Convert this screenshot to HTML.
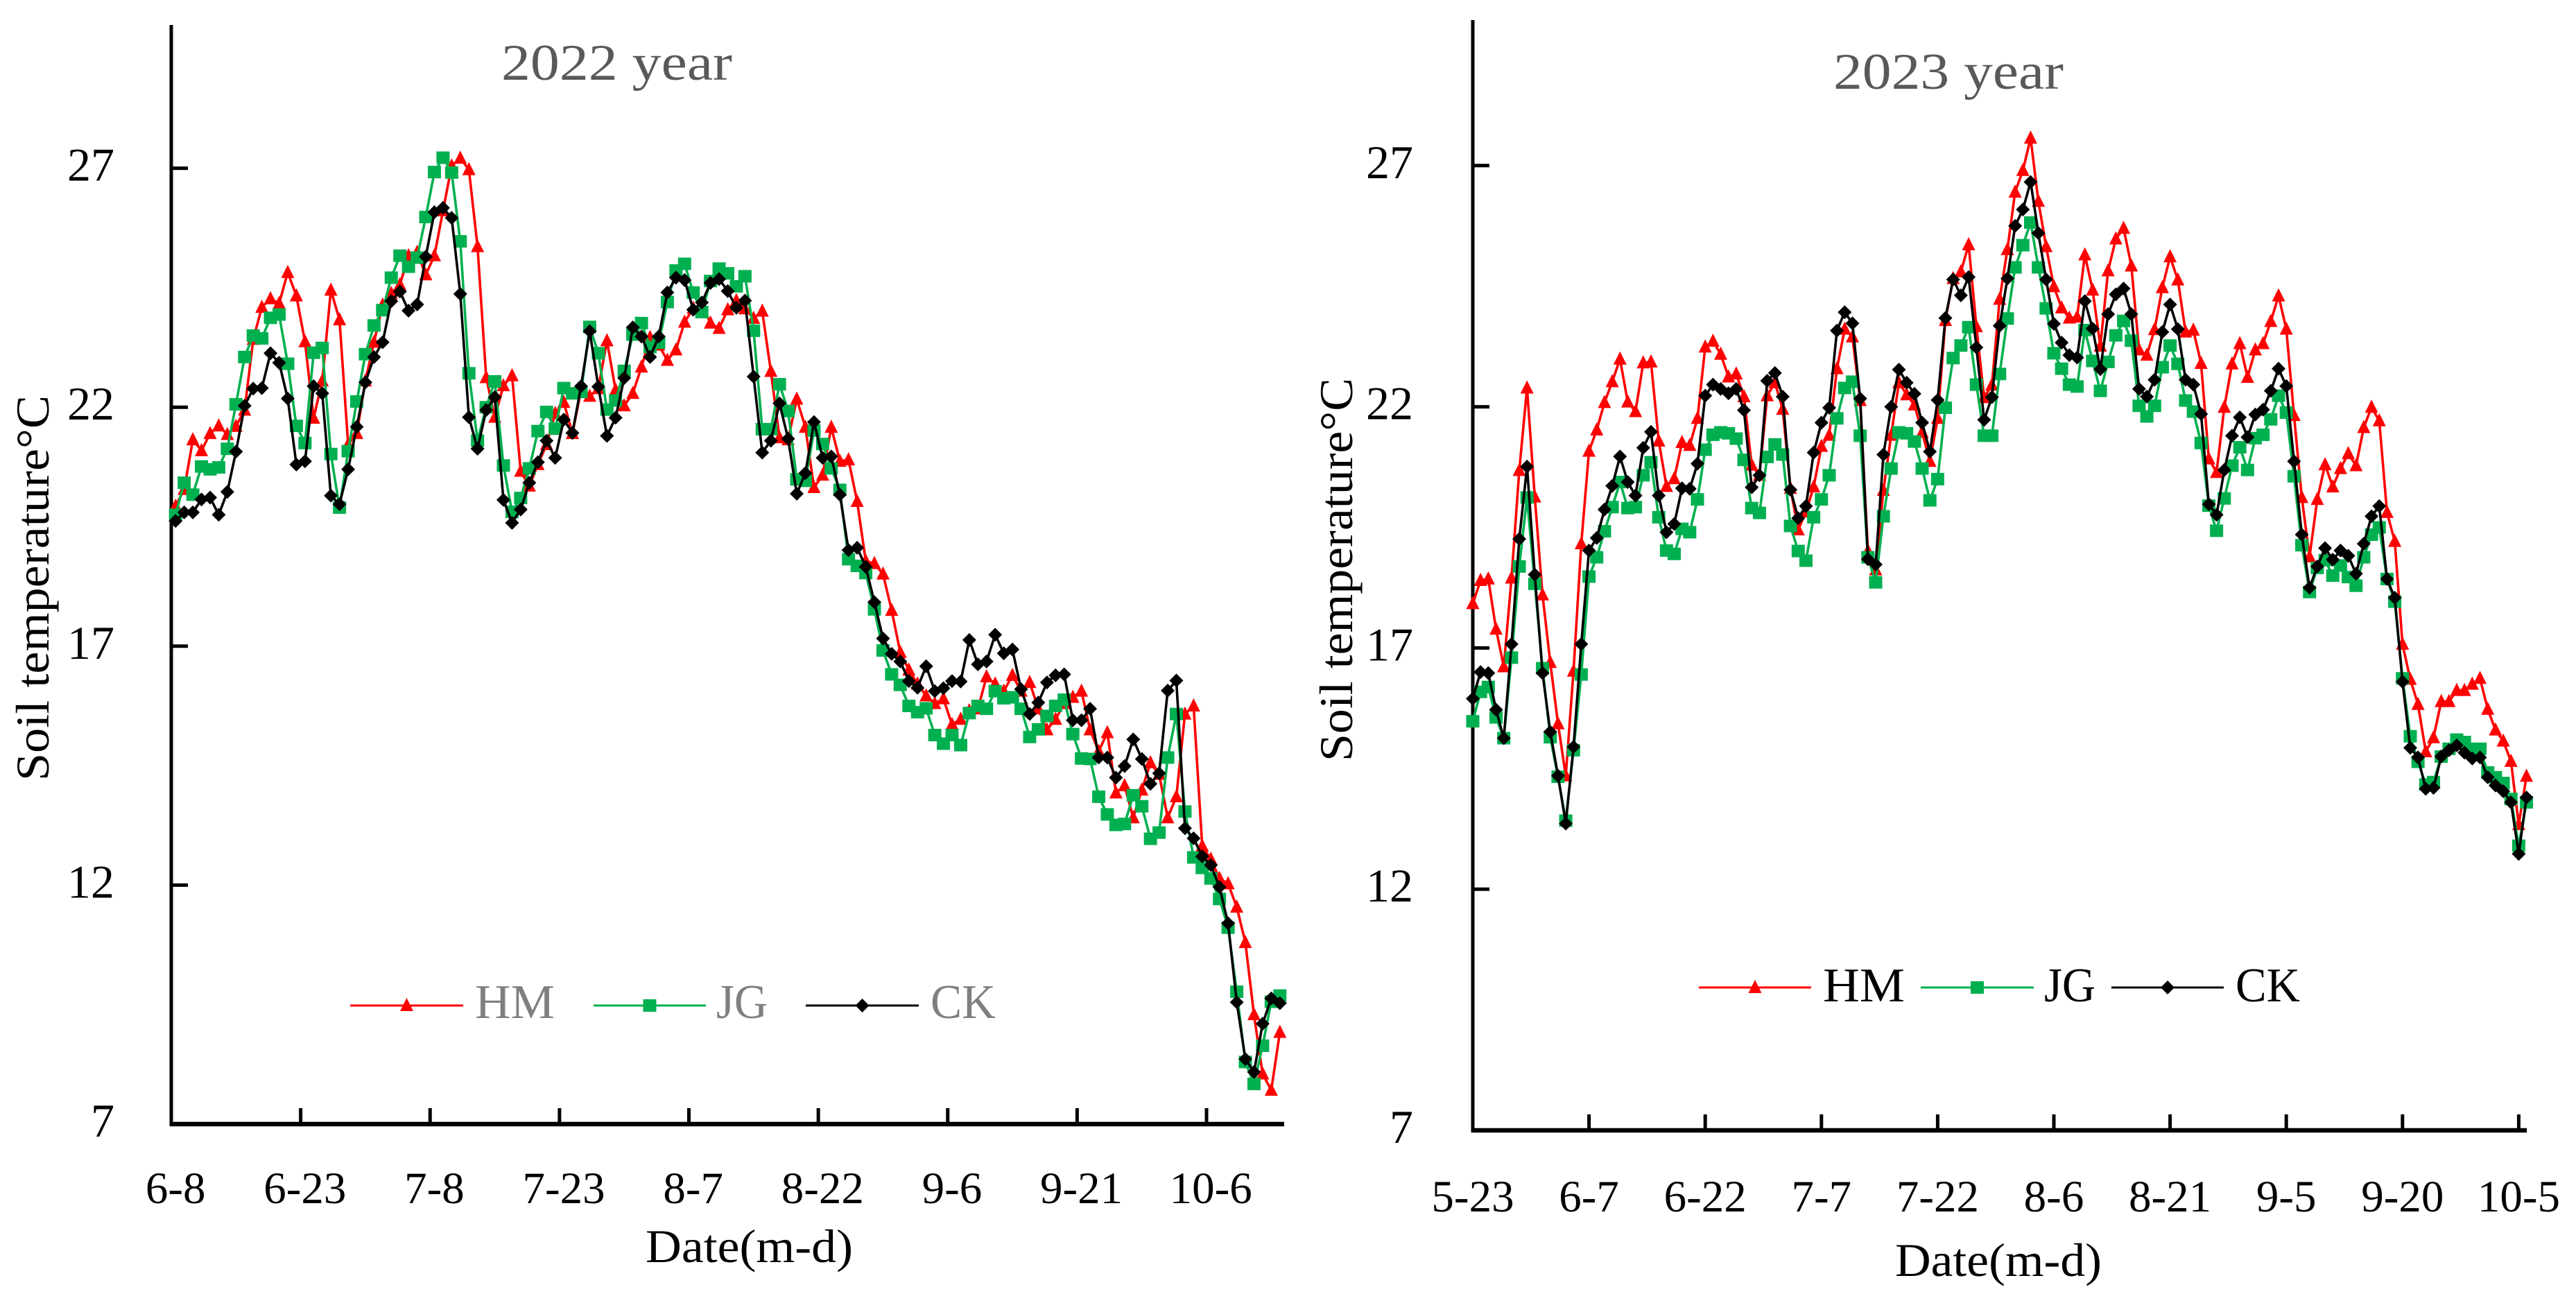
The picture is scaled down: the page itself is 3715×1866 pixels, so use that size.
<!DOCTYPE html>
<html lang="en">
<head>
<meta charset="utf-8">
<title>Soil temperature 2022 and 2023</title>
<style>
html,body{margin:0;padding:0;background:#fff;}
svg{display:block;}
text{font-family:"Liberation Serif","DejaVu Serif",serif;}
</style>
</head>
<body>
<svg id="figure" xmlns="http://www.w3.org/2000/svg" width="3715" height="1866" viewBox="0 0 3715 1866">
  <rect x="0" y="0" width="3715" height="1866" fill="#ffffff"/>
  <g id="chart-2022">
    <text x="723" y="115" font-size="74" fill="#595959" textLength="333" lengthAdjust="spacingAndGlyphs">2022 year</text>
    <text transform="translate(70,1126) rotate(-90)" font-size="68" fill="#000" textLength="556" lengthAdjust="spacingAndGlyphs">Soil temperature°C</text>
    <text x="931" y="1820" font-size="68" fill="#000" textLength="299" lengthAdjust="spacingAndGlyphs">Date(m-d)</text>
  </g>
  <g id="chart-2023">
    <text x="2644" y="128" font-size="74" fill="#595959" textLength="332" lengthAdjust="spacingAndGlyphs">2023 year</text>
    <text transform="translate(1950,1098) rotate(-90)" font-size="68" fill="#000" textLength="553" lengthAdjust="spacingAndGlyphs">Soil temperature°C</text>
    <text x="2733" y="1840" font-size="68" fill="#000" textLength="298" lengthAdjust="spacingAndGlyphs">Date(m-d)</text>
  </g>
</svg>
<script>
const yTickValues = [7, 12, 17, 22, 27];
const tickLabels2022 = ["6-8","6-23","7-8","7-23","8-7","8-22","9-6","9-21","10-6"];
const tickLabels2023 = ["5-23","6-7","6-22","7-7","7-22","8-6","8-21","9-5","9-20","10-5"];
const legendNames = ["HM","JG","CK"];

const hm2022 = [19.93,20.28,21.32,21.09,21.45,21.61,21.43,21.60,21.94,23.42,
24.09,24.27,24.17,24.82,24.33,23.37,21.77,22.55,24.45,23.83,
21.22,21.45,22.55,23.36,24.14,24.38,24.56,25.17,25.24,24.77,
25.17,26.11,27.05,27.21,26.97,25.36,22.62,21.79,22.45,22.66,
20.66,20.35,20.80,21.22,21.87,22.10,21.45,22.36,22.23,22.39,
23.39,22.36,22.03,22.29,22.84,23.46,23.30,22.98,23.20,23.78,
24.07,24.14,23.76,23.65,24.04,24.23,24.06,23.86,24.01,22.75,21.36,21.32,22.17,21.58,20.32,20.58,21.58,20.87,20.90,20.03,18.78,18.73,18.51,17.75,
16.87,16.50,16.21,15.96,15.80,15.90,15.36,15.47,15.65,15.69,16.36,16.21,16.06,16.39,16.06,16.24,15.69,15.25,15.47,15.80,15.93,16.06,15.25,14.80,15.19,13.93,14.08,13.41,13.99,14.56,14.32,13.41,13.85,15.58,15.75,12.82,12.54,12.14,12.03,11.54,10.80,9.29,8.05,7.71,8.92];

const jg2022 = [19.75,20.42,20.17,20.76,20.70,20.74,21.13,22.06,23.05,23.50,
23.44,23.87,23.94,22.91,21.61,21.25,23.14,23.24,21.02,19.90,
21.08,22.12,23.11,23.71,24.03,24.71,25.17,24.94,25.13,25.98,
26.92,27.22,26.91,25.47,22.71,21.30,22.00,22.54,20.78,19.81,
20.10,20.72,21.50,21.90,21.55,22.40,22.29,22.32,23.68,23.13,
21.95,22.14,22.76,23.52,23.76,23.26,23.35,24.20,24.86,25.00,
24.40,23.99,24.64,24.90,24.80,24.53,24.74,23.60,21.54,21.54,22.48,21.92,20.49,20.46,21.51,21.23,20.72,20.27,18.82,18.68,18.53,17.77,
16.91,16.41,16.19,15.75,15.62,15.70,15.14,14.96,15.14,14.93,15.60,15.75,15.69,16.06,15.91,15.93,15.69,15.10,15.26,15.54,15.75,15.88,15.16,14.65,14.64,13.85,13.48,13.26,13.28,13.88,13.65,12.97,13.10,14.67,15.58,13.54,12.58,12.36,12.14,11.71,11.11,9.77,8.30,7.84,8.64,9.56,9.69];

const ck2022 = [19.62,19.80,19.80,20.07,20.11,19.75,20.23,21.07,22.03,22.39,
22.40,23.13,22.93,22.18,20.80,20.87,22.44,22.29,20.15,19.97,
20.70,21.59,22.52,23.05,23.36,24.22,24.42,24.02,24.15,25.15,
26.08,26.17,25.96,24.37,21.79,21.13,21.94,22.21,20.06,19.58,
19.86,20.42,20.85,21.30,20.94,21.74,21.46,22.44,23.59,22.43,
21.40,21.78,22.61,23.67,23.48,23.05,23.48,24.40,24.71,24.66,
24.04,24.19,24.60,24.68,24.43,24.08,24.23,22.64,21.05,21.30,22.08,21.34,20.19,20.62,21.69,20.94,20.97,20.17,19.01,19.06,18.66,17.92,
17.16,16.84,16.68,16.27,16.13,16.58,16.06,16.12,16.27,16.26,17.13,16.62,16.68,17.24,16.85,16.93,16.10,15.58,15.82,16.24,16.39,16.41,15.45,15.45,15.69,14.67,14.67,14.25,14.49,15.05,14.64,14.12,14.34,16.07,16.28,13.19,12.98,12.60,12.42,11.96,11.20,9.55,8.36,8.09,9.10,9.63,9.53];

const hm2023 = [17.92,18.40,18.43,17.39,16.61,18.45,20.68,22.39,20.13,18.10,
16.70,15.43,14.35,16.52,19.16,21.08,21.52,22.09,22.52,22.99,
22.10,21.90,22.91,22.93,21.29,20.35,20.51,21.26,21.20,21.76,
23.24,23.36,23.09,22.62,22.68,22.21,20.79,20.58,22.23,22.50,
21.95,20.31,19.45,19.82,20.34,21.18,21.41,22.79,23.61,23.45,
22.13,19.01,18.62,20.27,21.41,22.50,22.25,22.04,21.47,20.87,
21.76,23.79,24.66,24.80,25.36,
23.66,22.19,22.45,24.23,25.26,26.45,26.90,27.57,26.26,25.32,24.49,24.05,23.84,23.86,25.15,24.42,23.26,24.82,25.48,25.70,24.92,23.18,23.07,23.60,24.47,25.11,24.63,23.55,23.59,22.90,20.92,20.64,21.99,22.89,23.31,22.61,23.18,23.31,23.77,24.30,23.61,21.82,20.12,18.89,20.08,20.80,20.34,20.72,21.03,20.78,21.57,21.99,21.71,19.81,19.21,
17.08,16.35,15.83,14.85,15.14,15.89,15.89,16.12,16.12,16.25,16.37,15.73,15.30,15.07,14.65,13.34,14.34];

const jg2023 = [15.48,16.09,16.19,15.56,15.13,16.80,18.69,20.12,18.33,16.58,
15.15,14.33,13.42,14.88,16.45,18.48,18.88,19.42,19.92,20.44,
19.90,19.92,20.58,20.85,19.71,19.02,18.95,19.47,19.40,20.08,
21.11,21.42,21.47,21.45,21.34,20.90,19.90,19.80,20.96,21.22,
21.01,19.53,19.01,18.81,19.71,20.08,20.58,21.76,22.39,22.52,
21.40,18.88,18.36,19.73,20.72,21.47,21.45,21.28,20.72,20.06,
20.50,21.98,23.01,23.27,23.65,22.46,
21.40,21.40,22.68,23.83,24.89,25.35,25.82,24.89,24.04,23.11,22.79,22.46,22.42,23.59,22.95,22.33,22.93,23.48,23.78,23.37,22.02,21.80,22.02,22.82,23.27,22.89,22.13,21.90,21.25,19.95,19.43,20.10,20.78,21.16,20.69,21.35,21.42,21.74,22.23,21.88,20.56,19.13,18.16,18.66,18.82,18.50,18.71,18.47,18.29,18.88,19.35,19.50,
18.43,17.96,16.37,15.17,14.64,14.17,14.22,14.75,14.91,15.10,15.05,14.91,14.91,14.42,14.32,14.20,13.87,12.90,13.80];

const ck2023 = [15.95,16.50,16.48,15.72,15.13,17.08,19.26,20.76,18.52,16.48,
15.26,14.35,13.36,14.95,17.08,19.02,19.28,19.87,20.36,20.97,
20.44,20.16,21.15,21.48,20.16,19.40,19.57,20.31,20.30,20.82,
22.23,22.46,22.37,22.28,22.37,21.93,20.33,20.58,22.54,22.70,
22.21,20.28,19.69,19.94,21.05,21.67,21.98,23.58,23.96,23.73,
22.17,18.84,18.73,21.01,22.00,22.77,22.50,22.27,21.67,21.07,
22.14,23.84,24.64,24.31,24.69,
23.23,21.73,22.20,23.68,24.66,25.75,26.09,26.66,25.60,24.64,23.72,23.33,23.07,23.02,24.19,23.62,22.78,23.92,24.33,24.45,23.92,22.37,22.21,22.56,23.55,24.12,23.61,22.56,22.46,21.85,19.98,19.76,20.69,21.40,21.78,21.37,21.84,21.94,22.33,22.79,22.43,20.87,19.35,18.25,18.69,19.07,18.83,19.02,18.91,18.54,19.16,19.73,19.94,
18.43,18.04,16.30,14.93,14.73,14.08,14.10,14.75,14.88,14.98,14.83,14.71,14.73,14.32,14.15,14.03,13.80,12.73,13.90];

const SVG_NS = "http://www.w3.org/2000/svg";
const RED = "#ff0000", GREEN = "#00b050", BLACK = "#000000";
const SERIES_COLORS = [RED, GREEN, BLACK];
const TICK_EVERY = 15;

function make(tag, attrs, parent) {
  const el = document.createElementNS(SVG_NS, tag);
  for (const k in attrs) el.setAttribute(k, attrs[k]);
  parent.appendChild(el);
  return el;
}

function drawMarker(parent, kind, cx, cy, color, label) {
  let el;
  if (kind === 0) {
    el = make("polygon", {points: (cx) + "," + (cy - 11) + " " + (cx + 9.5) + "," + (cy + 8) + " " + (cx - 9.5) + "," + (cy + 8), fill: color}, parent);
  } else if (kind === 1) {
    el = make("rect", {x: cx - 9.5, y: cy - 9, width: 19, height: 18, fill: color}, parent);
  } else {
    el = make("polygon", {points: cx + "," + (cy - 10) + " " + (cx + 10) + "," + cy + " " + cx + "," + (cy + 10) + " " + (cx - 10) + "," + cy, fill: color}, parent);
  }
  
  
}

function drawChart(group, yr, xPos, tickX, labelX, yPos, axis, labels, seriesList, legend) {
  const yAxis = make("line", {x1: axis.left, x2: axis.left, y1: axis.top, y2: axis.bottom + 3, stroke: "#000", "stroke-width": 5}, group);
  
  
  const xAxis = make("line", {x1: axis.left - 2, x2: axis.right, y1: axis.bottom, y2: axis.bottom, stroke: "#000", "stroke-width": 6.5}, group);
  
  

  yTickValues.forEach(function (v) {
    const yy = yPos(v);
    if (v !== yTickValues[0]) {
      const t = make("line", {x1: axis.left, x2: axis.left + 24, y1: yy, y2: yy, stroke: "#000", "stroke-width": 5}, group);
      
      
    }
    const lab = make("text", {x: axis.yLabelRight, y: yy + 18, "font-size": 68, "text-anchor": "end", fill: "#000"}, group);
    lab.textContent = String(v);
    
    
  });

  labels.forEach(function (name, n) {
    const idx = n * TICK_EVERY;
    const tx = tickX(idx);
    if (n > 0) {
      const t = make("line", {x1: tx, x2: tx, y1: axis.bottom, y2: axis.bottom - 23, stroke: "#000", "stroke-width": 5}, group);
      
      
    }
    const lab = make("text", {x: labelX(idx), y: axis.xLabelBaseline, "font-size": 65, "text-anchor": "middle", fill: "#000"}, group);
    lab.textContent = name;
    
    
  });

  seriesList.forEach(function (values, s) {
    const sg = make("g", {}, group);
    
    
    const pts = values.map(function (v, i) { return xPos(i).toFixed(2) + "," + yPos(v).toFixed(2); }).join(" ");
    const line = make("polyline", {points: pts, fill: "none", stroke: SERIES_COLORS[s], "stroke-width": 3.6, "stroke-linejoin": "round"}, sg);
    
    
    values.forEach(function (v, i) {
      drawMarker(sg, s, xPos(i), yPos(v), SERIES_COLORS[s], 'point-' + legendNames[s].toLowerCase());
    });
  });

  legendNames.forEach(function (name, s) {
    const e = legend.entries[s];
    const lg = make("g", {}, group);
    
    
    const sw = make("line", {x1: e.x1, x2: e.x2, y1: legend.y, y2: legend.y, stroke: SERIES_COLORS[s], "stroke-width": 3}, lg);
    
    
    drawMarker(lg, s, (e.x1 + e.x2) / 2, legend.y, SERIES_COLORS[s], 'legend-marker');
    const tx = make("text", {x: e.tx, y: legend.baseline, "font-size": 70, fill: legend.color, textLength: e.tw, lengthAdjust: "spacingAndGlyphs"}, lg);
    tx.textContent = name;
    
    
  });
}

/* 2022 panel: categories sit between tick marks */
const step22 = 1605 / hm2022.length;
const x22 = function (i) { return 247 + (i + 0.5) * step22; };
const tick22 = function (i) { return 247 + i * step22; };
const y22 = function (v) { return 1621 - (v - 7) * 68.92; };
drawChart(document.getElementById("chart-2022"), "2022", x22, tick22, x22, y22,
  {left: 247, right: 1852, top: 36, bottom: 1621, yLabelRight: 165, xLabelBaseline: 1735},
  tickLabels2022, [hm2022, jg2022, ck2022],
  {y: 1450, baseline: 1468, color: "#7f7f7f", entries: [
    {x1: 505, x2: 668, tx: 685, tw: 115},
    {x1: 856, x2: 1018, tx: 1033, tw: 74},
    {x1: 1162, x2: 1325, tx: 1342, tw: 94}
  ]});

/* 2023 panel: categories sit on tick marks */
const step23 = 167.6 / TICK_EVERY;
const x23 = function (i) { return 2124 + i * step23; };
const y23 = function (v) { return 1630 - (v - 7) * 69.56; };
drawChart(document.getElementById("chart-2023"), "2023", x23, x23, x23, y23,
  {left: 2124, right: 3644, top: 29, bottom: 1630, yLabelRight: 2038, xLabelBaseline: 1747},
  tickLabels2023, [hm2023, jg2023, ck2023],
  {y: 1424, baseline: 1444, color: "#000000", entries: [
    {x1: 2450, x2: 2612, tx: 2629, tw: 118},
    {x1: 2770, x2: 2933, tx: 2948, tw: 74},
    {x1: 3045, x2: 3207, tx: 3224, tw: 93}
  ]});
</script>
</body>
</html>
